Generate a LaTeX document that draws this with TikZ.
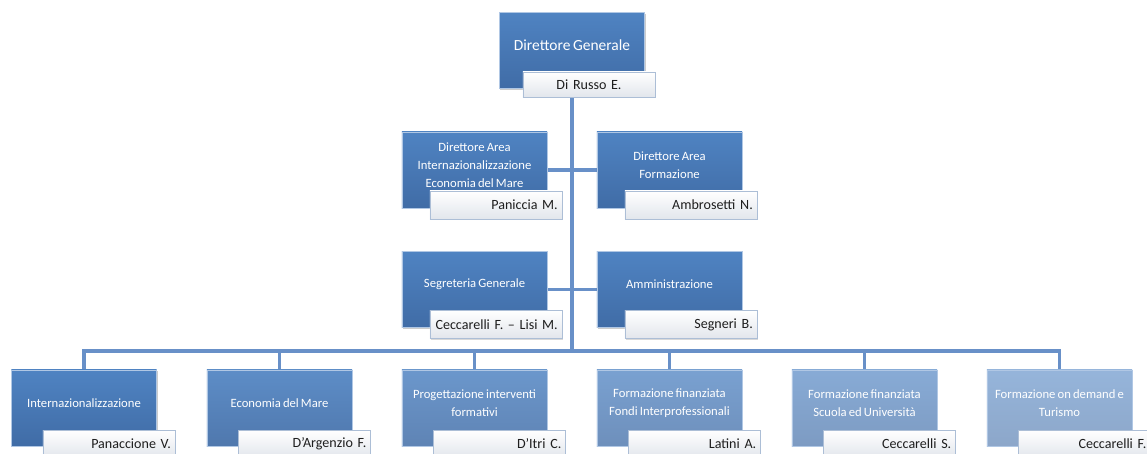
\documentclass[tikz,border=0pt]{standalone}
\usepackage{fontspec}
\setmainfont{Carlito}[WordSpace=0.75]
\usetikzlibrary{shadows,backgrounds}
\definecolor{boxblue}{RGB}{79,131,194}
\definecolor{boxdark}{RGB}{64,108,166}
\definecolor{linkblue}{RGB}{104,144,200}
\definecolor{tagborder}{RGB}{172,190,214}
\definecolor{tagfill}{RGB}{226,230,236}
\definecolor{tagtext}{RGB}{30,30,30}

\begin{document}
\begin{tikzpicture}[x=0.025cm,y=-0.025cm,
    unit/.style={rectangle, minimum width=3.625cm, minimum height=1.9cm,
      top color=boxblue!#1!white, bottom color=boxdark!#1!white,
      draw=boxblue!45!white, line width=0.4pt,
      drop shadow={shadow xshift=0.7pt, shadow yshift=-0.9pt, opacity=0.4}},
    unit/.default=100,
    caption/.style={text=white, align=center, yshift=3.5pt,
      font=\fontsize{9}{13}\selectfont},
    tag/.style={rectangle, minimum height=0.7cm, inner xsep=3pt,
      text width=3.09cm, align=right, draw=tagborder, line width=0.5pt,
      top color=white, bottom color=tagfill, text=tagtext,
      font=\fontsize{10}{12}\selectfont,
      drop shadow={shadow xshift=0.6pt, shadow yshift=-0.8pt, opacity=0.3}},
    link/.style={draw=linkblue, line width=2.8pt}]
  \useasboundingbox (0,0) rectangle (1147,454);

  % vertice
  \node[unit, label={[caption, font=\fontsize{11}{13}\selectfont]center:Direttore Generale}] (dg) at (572,50.5) {};
  \node[tag, align=center, minimum height=0.625cm] (dgN) at (589,84.5) {Di Russo E.};

  % direttori di area
  \node[unit, label={[caption]center:Direttore Area\\Internazionalizzazione\\Economia del Mare}] (dai) at (474.5,170) {};
  \node[tag] (daiN) at (496,205) {Paniccia M.};
  \node[unit, label={[caption]center:Direttore Area\\Formazione}] (daf) at (669.5,170) {};
  \node[tag] (dafN) at (691,205) {Ambrosetti N.};

  % staff
  \node[unit, label={[caption]center:Segreteria Generale}] (sg) at (474.5,289.5) {};
  \node[tag] (sgN) at (496,324.5) {Ceccarelli F. -- Lisi M.};
  \node[unit, label={[caption]center:Amministrazione}] (amm) at (669.5,289.5) {};
  \node[tag] (ammN) at (691,324.5) {Segneri B.};

  % unita operative
  \node[unit, label={[caption]center:Internazionalizzazione}] (in) at (84,408) {};
  \node[tag] (inN) at (109,444) {Panaccione V.};
  \node[unit=92, label={[caption]center:Economia del Mare}] (em) at (279.5,408) {};
  \node[tag] (emN) at (304.5,444) {D’Argenzio F.};
  \node[unit=84, label={[caption]center:Progettazione interventi\\formativi}] (pif) at (474.5,408) {};
  \node[tag] (pifN) at (499.5,444) {D’Itri C.};
  \node[unit=76, label={[caption]center:Formazione finanziata\\Fondi Interprofessionali}] (ffi) at (669.5,408) {};
  \node[tag] (ffiN) at (694.5,444) {Latini A.};
  \node[unit=68, label={[caption]center:Formazione finanziata\\Scuola ed Università}] (ffs) at (864.5,408) {};
  \node[tag] (ffsN) at (889.5,444) {Ceccarelli S.};
  \node[unit=60, label={[caption]center:Formazione on demand e\\Turismo}] (fod) at (1059.5,408) {};
  \node[tag] (fodN) at (1084.5,444) {Ceccarelli F.};

  \coordinate (bus) at (572,351);
  \begin{scope}[on background layer]
    \draw[link] (dg) -- (bus);
    \draw[link] (dai) -- (daf);
    \draw[link] (sg) -- (amm);
    \draw[link] (in.north) |- (bus) -| (fod.north);
    \draw[link] (em.north) -- (em.north |- bus);
    \draw[link] (pif.north) -- (pif.north |- bus);
    \draw[link] (ffi.north) -- (ffi.north |- bus);
    \draw[link] (ffs.north) -- (ffs.north |- bus);
  \end{scope}
\end{tikzpicture}
\end{document}
